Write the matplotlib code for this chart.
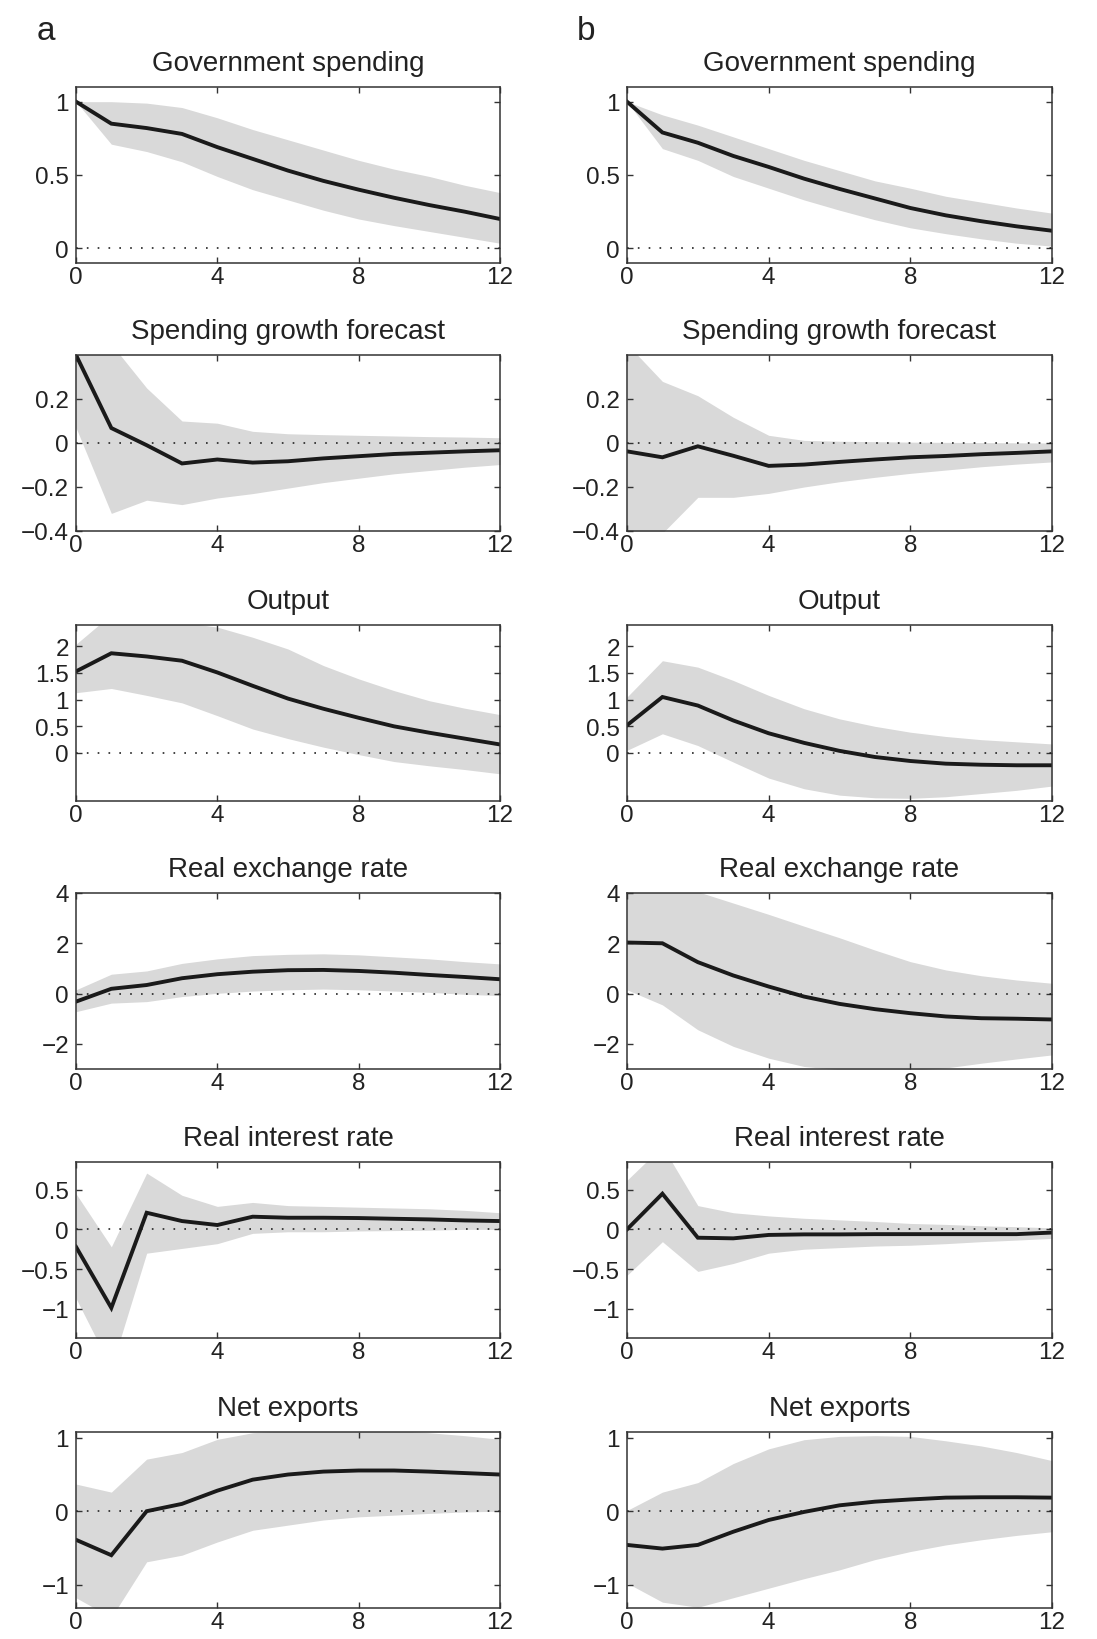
import numpy as np
import matplotlib.pyplot as plt

plt.rcParams['font.family'] = ['Liberation Sans', 'DejaVu Sans']

horizon = list(range(13))

titles = ['Government spending', 'Spending growth forecast', 'Output',
          'Real exchange rate', 'Real interest rate', 'Net exports']

# column a: point response, lower and upper band
gov_a = [1.0, 0.85, 0.82, 0.78, 0.69, 0.61, 0.53, 0.46, 0.40, 0.345, 0.295, 0.25, 0.20]
gov_a_lo = [1.0, 0.71, 0.66, 0.59, 0.49, 0.40, 0.33, 0.26, 0.20, 0.155, 0.115, 0.075, 0.035]
gov_a_hi = [1.0, 1.0, 0.99, 0.96, 0.89, 0.81, 0.74, 0.67, 0.60, 0.54, 0.49, 0.43, 0.38]

fc_a = [0.40, 0.068, -0.01, -0.093, -0.075, -0.089, -0.083, -0.07, -0.06, -0.05, -0.044, -0.038, -0.033]
fc_a_lo = [0.07, -0.32, -0.26, -0.28, -0.25, -0.23, -0.205, -0.18, -0.16, -0.14, -0.125, -0.11, -0.098]
fc_a_hi = [0.6, 0.45, 0.25, 0.10, 0.09, 0.053, 0.042, 0.038, 0.035, 0.032, 0.029, 0.027, 0.024]

out_a = [1.53, 1.87, 1.81, 1.73, 1.51, 1.26, 1.02, 0.83, 0.66, 0.50, 0.38, 0.27, 0.16]
out_a_lo = [1.13, 1.21, 1.08, 0.94, 0.70, 0.45, 0.27, 0.11, -0.03, -0.16, -0.24, -0.31, -0.39]
out_a_hi = [2.04, 2.6, 2.6, 2.45, 2.36, 2.17, 1.95, 1.64, 1.39, 1.17, 0.98, 0.84, 0.72]

rer_a = [-0.32, 0.19, 0.34, 0.61, 0.77, 0.87, 0.93, 0.94, 0.90, 0.83, 0.74, 0.66, 0.57]
rer_a_lo = [-0.72, -0.38, -0.32, -0.12, 0.01, 0.10, 0.15, 0.18, 0.15, 0.10, 0.05, -0.03, -0.08]
rer_a_hi = [0.15, 0.77, 0.90, 1.20, 1.38, 1.51, 1.56, 1.58, 1.54, 1.46, 1.38, 1.27, 1.18]

rir_a = [-0.22, -0.99, 0.21, 0.105, 0.055, 0.16, 0.147, 0.147, 0.143, 0.134, 0.126, 0.113, 0.105]
rir_a_lo = [-0.87, -1.75, -0.30, -0.24, -0.18, -0.05, -0.03, -0.03, -0.02, -0.015, -0.01, 0.0, 0.0]
rir_a_hi = [0.45, -0.22, 0.71, 0.43, 0.29, 0.34, 0.30, 0.29, 0.28, 0.27, 0.26, 0.24, 0.21]

nx_a = [-0.39, -0.60, 0.0, 0.10, 0.28, 0.43, 0.50, 0.54, 0.555, 0.555, 0.54, 0.52, 0.50]
nx_a_lo = [-1.18, -1.45, -0.69, -0.60, -0.42, -0.26, -0.19, -0.12, -0.077, -0.054, -0.03, -0.01, 0.0]
nx_a_hi = [0.37, 0.26, 0.71, 0.80, 0.98, 1.07, 1.1, 1.1, 1.1, 1.1, 1.07, 1.03, 0.98]

# column b
gov_b = [1.0, 0.79, 0.72, 0.63, 0.555, 0.475, 0.405, 0.34, 0.275, 0.225, 0.185, 0.15, 0.12]
gov_b_lo = [1.0, 0.68, 0.60, 0.49, 0.41, 0.33, 0.26, 0.195, 0.14, 0.10, 0.065, 0.035, 0.015]
gov_b_hi = [1.0, 0.91, 0.84, 0.76, 0.68, 0.60, 0.53, 0.46, 0.41, 0.355, 0.315, 0.275, 0.24]

fc_b = [-0.038, -0.065, -0.015, -0.058, -0.104, -0.098, -0.086, -0.075, -0.065, -0.059, -0.051, -0.045, -0.038]
fc_b_lo = [-0.5, -0.41, -0.247, -0.247, -0.229, -0.20, -0.176, -0.156, -0.138, -0.123, -0.108, -0.096, -0.086]
fc_b_hi = [0.45, 0.28, 0.215, 0.117, 0.035, 0.012, 0.008, 0.006, 0.004, 0.003, 0.002, 0.001, 0.0]

out_b = [0.52, 1.05, 0.89, 0.61, 0.37, 0.19, 0.04, -0.075, -0.15, -0.20, -0.22, -0.23, -0.23]
out_b_lo = [0.05, 0.36, 0.14, -0.17, -0.47, -0.67, -0.79, -0.84, -0.85, -0.82, -0.76, -0.70, -0.62]
out_b_hi = [1.05, 1.73, 1.61, 1.36, 1.08, 0.83, 0.64, 0.50, 0.39, 0.31, 0.25, 0.21, 0.17]

rer_b = [2.03, 2.0, 1.25, 0.72, 0.28, -0.12, -0.41, -0.62, -0.78, -0.91, -0.98, -1.0, -1.03]
rer_b_lo = [0.15, -0.45, -1.44, -2.1, -2.57, -2.9, -3.03, -3.05, -3.05, -2.96, -2.77, -2.6, -2.44]
rer_b_hi = [5.0, 4.6, 4.05, 3.6, 3.15, 2.68, 2.22, 1.73, 1.27, 0.94, 0.71, 0.54, 0.41]

rir_b = [0.0, 0.45, -0.105, -0.113, -0.07, -0.063, -0.063, -0.06, -0.06, -0.06, -0.06, -0.06, -0.04]
rir_b_lo = [-0.58, -0.155, -0.53, -0.43, -0.30, -0.25, -0.23, -0.21, -0.20, -0.18, -0.155, -0.135, -0.113]
rir_b_hi = [0.62, 1.05, 0.30, 0.21, 0.17, 0.14, 0.12, 0.10, 0.075, 0.063, 0.046, 0.034, 0.02]

nx_b = [-0.46, -0.51, -0.46, -0.28, -0.12, -0.01, 0.08, 0.13, 0.16, 0.185, 0.19, 0.19, 0.185]
nx_b_lo = [-0.98, -1.24, -1.31, -1.18, -1.05, -0.92, -0.80, -0.66, -0.55, -0.46, -0.39, -0.33, -0.28]
nx_b_hi = [0.01, 0.26, 0.39, 0.65, 0.85, 0.975, 1.02, 1.03, 1.02, 0.96, 0.89, 0.80, 0.69]

ylims = [(-0.1, 1.1), (-0.4, 0.4), (-0.9, 2.4), (-3, 4), (-1.37, 0.85), (-1.32, 1.08)]
yticks = [[0, 0.5, 1], [-0.4, -0.2, 0, 0.2], [0, 0.5, 1, 1.5, 2],
          [-2, 0, 2, 4], [-1, -0.5, 0, 0.5], [-1, 0, 1]]

col_a = [(gov_a, gov_a_lo, gov_a_hi), (fc_a, fc_a_lo, fc_a_hi), (out_a, out_a_lo, out_a_hi),
         (rer_a, rer_a_lo, rer_a_hi), (rir_a, rir_a_lo, rir_a_hi), (nx_a, nx_a_lo, nx_a_hi)]
col_b = [(gov_b, gov_b_lo, gov_b_hi), (fc_b, fc_b_lo, fc_b_hi), (out_b, out_b_lo, out_b_hi),
         (rer_b, rer_b_lo, rer_b_hi), (rir_b, rir_b_lo, rir_b_hi), (nx_b, nx_b_lo, nx_b_hi)]

W, H = 1097, 1640
fig = plt.figure(figsize=(W / 100, H / 100), dpi=100)

lefts = [76, 627]
widths = [424, 425]
tops = [88, 356, 626, 894, 1163, 1433]
ax_h = 176


def fmt(v):
    s = ('%g' % v).replace('-', '\u2212')
    return s


for c, col in enumerate([col_a, col_b]):
    for r, (mid, lo, hi) in enumerate(col):
        ax = fig.add_axes([lefts[c] / W, 1 - (tops[r] + ax_h) / H, widths[c] / W, ax_h / H])
        ax.fill_between(horizon, lo, hi, color='#d9d9d9', lw=0)
        ax.plot([0, 12], [0, 0], color='#222222', lw=1.2, ls=(0, (1, 5.5)))
        ax.plot(horizon, mid, color='#1a1a1a', lw=2.8, solid_joinstyle='miter')
        ax.set_xlim(0, 12)
        ax.set_ylim(*ylims[r])
        ax.set_xticks([0, 4, 8, 12])
        ax.set_yticks(yticks[r])
        ax.set_yticklabels([fmt(v) for v in yticks[r]])
        ax.tick_params(direction='in', top=True, right=True, length=4, width=1,
                       color='#333333', labelsize=17.5, labelcolor='#222222')
        ax.tick_params(axis='x', pad=2)
        ax.tick_params(axis='y', pad=5)
        for sp in ax.spines.values():
            sp.set_linewidth(1.1)
            sp.set_color('#333333')
        ax.set_title(titles[r], fontsize=20, color='#222222', pad=12)

fig.text(37 / W, 1 - 40 / H, 'a', fontsize=24, color='#222222')
fig.text(577 / W, 1 - 40 / H, 'b', fontsize=24, color='#222222')

fig.savefig('out.png', dpi=100)
